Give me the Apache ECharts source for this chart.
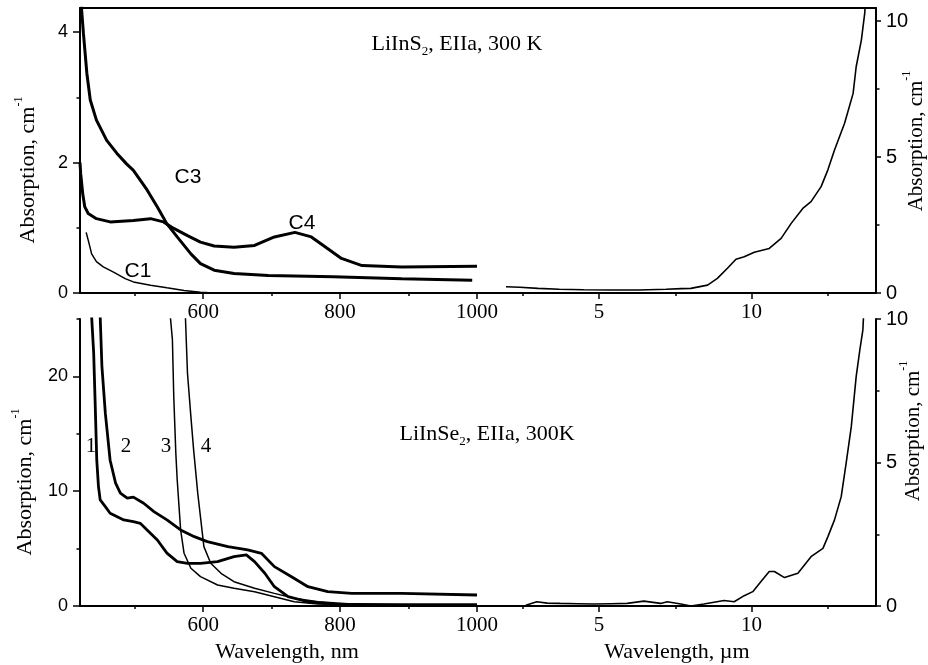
<!DOCTYPE html>
<html><head><meta charset="utf-8">
<script src="https://cdn.jsdelivr.net/npm/echarts@6/dist/echarts.min.js"></script>
<style>html,body{margin:0;padding:0;background:#fff}#c{width:928px;height:665px}</style>
</head><body><div id="c"></div>
<script>
// ---------- DATA ----------
// Top panel, LiInS2, visible range (nm) -> left axis
const c1Nm  = [429, 432, 437, 444, 454, 469, 486, 498, 523, 547, 572, 596, 615, 640, 660];
const c1Abs = [0.93, 0.81, 0.60, 0.48, 0.40, 0.32, 0.22, 0.17, 0.12, 0.08, 0.04, 0.01, 0.0, 0.0, 0.0];
const c3Nm  = [422, 425, 430, 435, 444, 459, 474, 488, 498, 508, 518, 533, 547, 562, 582, 596, 616, 645, 695, 790, 890, 993];
const c3Abs = [4.39, 3.98, 3.37, 2.96, 2.65, 2.34, 2.14, 1.98, 1.88, 1.73, 1.58, 1.32, 1.06, 0.86, 0.60, 0.45, 0.35, 0.30, 0.27, 0.25, 0.22, 0.195];
const c4Nm  = [420, 421, 424, 427, 432, 444, 464, 498, 523, 542, 557, 577, 596, 616, 645, 675, 704, 734, 758, 778, 802, 832, 890, 1000];
const c4Abs = [2.0, 1.83, 1.52, 1.32, 1.22, 1.14, 1.09, 1.11, 1.14, 1.09, 0.99, 0.88, 0.78, 0.72, 0.70, 0.73, 0.86, 0.93, 0.86, 0.71, 0.53, 0.42, 0.40, 0.41];
// Top panel, IR range (um) -> right axis
const sIrUm  = [1.95, 2.4, 3.0, 3.7, 4.5, 5.4, 6.3, 7.2, 7.7, 8.01, 8.56, 8.88, 9.21, 9.49, 9.76, 10.09, 10.58, 10.97, 11.30, 11.68, 11.95, 12.28, 12.50, 12.72, 13.05, 13.33, 13.43, 13.60, 13.71, 13.73];
const sIrAbs = [0.23, 0.21, 0.17, 0.14, 0.12, 0.11, 0.11, 0.14, 0.16, 0.17, 0.29, 0.54, 0.91, 1.24, 1.33, 1.50, 1.64, 2.01, 2.56, 3.11, 3.36, 3.91, 4.52, 5.26, 6.24, 7.34, 8.32, 9.30, 10.28, 10.65];
// Bottom panel, LiInSe2, visible range (nm)
const s1Nm  = [437, 440, 442, 444.5, 447, 449.5, 457, 464, 484, 498, 508, 518, 533, 547, 562, 577, 596, 621, 645, 663, 675, 690, 704, 724, 753, 792, 890, 1000];
const s1Abs = [25.2, 22.0, 18.0, 12.7, 10.4, 9.24, 8.66, 8.08, 7.5, 7.35, 7.2, 6.63, 5.75, 4.6, 3.86, 3.72, 3.72, 3.86, 4.30, 4.45, 3.86, 2.85, 1.68, 0.81, 0.37, 0.17, 0.09, 0.09];
const s2Nm  = [449.5, 452, 457, 464, 472, 479, 489, 498, 513, 528, 547, 567, 587, 606, 636, 665, 685, 704, 729, 753, 782, 817, 890, 1000];
const s2Abs = [25.2, 20.9, 16.8, 12.7, 10.7, 9.83, 9.39, 9.48, 8.95, 8.22, 7.5, 6.63, 6.04, 5.61, 5.17, 4.88, 4.59, 3.43, 2.55, 1.68, 1.25, 1.1, 1.1, 0.96];
const s3Nm  = [552, 555, 557, 560, 562, 567, 572, 582, 596, 621, 645, 675, 704, 733, 768, 850, 1000];
const s3Abs = [25.2, 23.2, 18.2, 13.3, 11.0, 6.63, 4.6, 3.29, 2.56, 1.83, 1.54, 1.25, 0.81, 0.37, 0.17, 0.10, 0.08];
const s4Nm  = [574, 577, 582, 586, 592, 596.5, 601, 611, 626, 645, 675, 704, 733, 768, 817, 1000];
const s4Abs = [25.2, 20.3, 16.5, 13.6, 9.83, 7.5, 5.17, 3.72, 2.85, 2.12, 1.54, 1.1, 0.67, 0.37, 0.17, 0.15];
// Bottom panel, IR range (um)
const seIrUm  = [2.6, 2.96, 3.3, 3.73, 4.3, 4.83, 5.4, 5.92, 6.47, 7.02, 7.24, 7.68, 8.01, 8.44, 9.1, 9.43, 9.76, 10.04, 10.31, 10.58, 10.75, 11.08, 11.52, 11.95, 12.34, 12.50, 12.72, 12.94, 13.10, 13.27, 13.43, 13.55, 13.65, 13.67];
const seIrAbs = [0.03, 0.15, 0.10, 0.09, 0.08, 0.07, 0.08, 0.09, 0.17, 0.09, 0.15, 0.07, 0.0, 0.07, 0.19, 0.15, 0.36, 0.50, 0.85, 1.20, 1.20, 0.99, 1.14, 1.72, 2.01, 2.41, 3.00, 3.81, 4.97, 6.25, 7.99, 8.92, 9.62, 10.08];

// Axis ticks / labels
const nmRange = [420, 1000];
const nmMajor = [600, 800, 1000];
const nmMinor = [500, 700, 900];
const umRange = [1, 14.08];
const umMajor = [5, 10];
const umTicks = [1, 5, 10];
const umMinor = [2.5, 7.5, 12.5];
const topLeftY = [0, 4.37], topLeftMajor = [0, 2, 4], topLeftMinor = [1, 3];
const topRightY = [0, 10.48], topRightMajor = [0, 5, 10], topRightMinor = [2.5, 7.5];
const botLeftY = [0, 25], botLeftMajor = [0, 10, 20], botLeftMinor = [5, 15, 25];
const botRightY = [0, 10], botRightMajor = [0, 5, 10], botRightMinor = [2.5, 7.5];

// ---------- CHART ----------
const SERIF = '"Liberation Serif","Times New Roman",serif';
const SANS = '"Liberation Sans",Arial,sans-serif';
const zip = (xs, ys) => xs.map((x, i) => [x, ys[i]]);
const AX = {color: '#000', width: 2};
const plain = v => String(v);

function xMain(g, r, ticks, labels) {
  return {type: 'value', gridIndex: g, position: 'bottom', min: r[0], max: r[1],
    axisLine: {show: true, onZero: false, lineStyle: AX},
    axisTick: {show: true, length: 6, customValues: ticks, lineStyle: {color: '#000', width: 1.5}},
    axisLabel: {show: true, customValues: labels, formatter: plain, margin: 9, fontFamily: SERIF, fontSize: 21, color: '#000', showMaxLabel: true, showMinLabel: true},
    splitLine: {show: false}};
}
function xMinor(g, r, ticks) {
  return {type: 'value', gridIndex: g, position: 'bottom', min: r[0], max: r[1],
    axisLine: {show: false}, axisTick: {show: true, length: 3, customValues: ticks, lineStyle: {color: '#000', width: 1.5}},
    axisLabel: {show: false}, splitLine: {show: false}};
}
function xTop(g, r) {
  return {type: 'value', gridIndex: g, position: 'top', min: r[0], max: r[1],
    axisLine: {show: true, onZero: false, lineStyle: AX}, axisTick: {show: false},
    axisLabel: {show: false}, splitLine: {show: false}};
}
function yMain(g, pos, r, ticks, fs, margin) {
  return {type: 'value', gridIndex: g, position: pos, min: r[0], max: r[1],
    axisLine: {show: true, onZero: false, lineStyle: AX},
    axisTick: {show: true, length: pos === 'left' ? 7 : 5, customValues: ticks, lineStyle: {color: '#000', width: 1.5}},
    axisLabel: {show: true, customValues: ticks, formatter: plain, margin: margin, fontFamily: SANS, fontSize: fs, color: '#000', showMaxLabel: true, showMinLabel: true},
    splitLine: {show: false}};
}
function yMinor(g, pos, r, ticks) {
  return {type: 'value', gridIndex: g, position: pos, min: r[0], max: r[1],
    axisLine: {show: false}, axisTick: {show: true, length: 3.5, customValues: ticks, lineStyle: {color: '#000', width: 1.5}},
    axisLabel: {show: false}, splitLine: {show: false}};
}
function line(data, xi, yi, w) {
  return {type: 'line', xAxisIndex: xi, yAxisIndex: yi, data: data, showSymbol: false, symbol: 'none',
    lineStyle: {color: '#000', width: w}, itemStyle: {color: '#000'}, clip: true, animation: false, silent: true};
}
function txt(x, y, text, font, size, rich, rot) {
  const st = {text: text, fontFamily: font, fontSize: size, fill: '#000', align: 'center', verticalAlign: 'middle'};
  if (rich) st.rich = rich;
  const o = {type: 'text', x: x, y: y, style: st, silent: true};
  if (rot) o.rotation = rot;
  return o;
}

const subRich = {
  t: {fontFamily: SERIF, fontSize: 22, lineHeight: 28, fill: '#000', verticalAlign: 'middle'},
  s: {fontFamily: SERIF, fontSize: 13, lineHeight: 28, fill: '#000', verticalAlign: 'bottom'}
};
function nameRich(size) {
  return {
    t: {fontFamily: SERIF, fontSize: size, lineHeight: 30, fill: '#000', verticalAlign: 'middle'},
    p: {fontFamily: SERIF, fontSize: 12, lineHeight: 30, fill: '#000', verticalAlign: 'top'}
  };
}

const option = {
  backgroundColor: '#fff',
  animation: false,
  grid: [
    {left: 80, top: 8, width: 397, height: 285},
    {left: 477, top: 8, width: 399, height: 285},
    {left: 80, top: 319, width: 397, height: 287},
    {left: 477, top: 319, width: 399, height: 287}
  ],
  xAxis: [
    xMain(0, nmRange, nmMajor, nmMajor), xMinor(0, nmRange, nmMinor), xTop(0, nmRange),
    xMain(1, umRange, umTicks, umMajor), xMinor(1, umRange, umMinor), xTop(1, umRange),
    xMain(2, nmRange, nmMajor, nmMajor), xMinor(2, nmRange, nmMinor),
    xMain(3, umRange, umTicks, umMajor), xMinor(3, umRange, umMinor)
  ],
  yAxis: [
    yMain(0, 'left', topLeftY, topLeftMajor, 18, 12), yMinor(0, 'left', topLeftY, topLeftMinor),
    yMain(1, 'right', topRightY, topRightMajor, 20, 10), yMinor(1, 'right', topRightY, topRightMinor),
    yMain(2, 'left', botLeftY, botLeftMajor, 18, 12), yMinor(2, 'left', botLeftY, botLeftMinor),
    yMain(3, 'right', botRightY, botRightMajor, 20, 10), yMinor(3, 'right', botRightY, botRightMinor)
  ],
  series: [
    line(zip(c1Nm, c1Abs), 0, 0, 1.5),
    line(zip(c3Nm, c3Abs), 0, 0, 3),
    line(zip(c4Nm, c4Abs), 0, 0, 3),
    line(zip(sIrUm, sIrAbs), 3, 2, 1.6),
    line(zip(s1Nm, s1Abs), 6, 4, 2.8),
    line(zip(s2Nm, s2Abs), 6, 4, 2.8),
    line(zip(s3Nm, s3Abs), 6, 4, 1.5),
    line(zip(s4Nm, s4Abs), 6, 4, 1.5),
    line(zip(seIrUm, seIrAbs), 8, 6, 1.6)
  ],
  graphic: [
    txt(457, 44, '{t|LiInS}{s|2}{t|, EIIa, 300 K}', SERIF, 22, subRich),
    txt(487, 434, '{t|LiInSe}{s|2}{t|, EIIa, 300K}', SERIF, 22, subRich),
    txt(138, 271, 'C1', SANS, 21),
    txt(188, 177, 'C3', SANS, 21),
    txt(302, 223, 'C4', SANS, 21),
    txt(91, 446, '1', SERIF, 21),
    txt(126, 446, '2', SERIF, 21),
    txt(166, 446, '3', SERIF, 21),
    txt(206, 446, '4', SERIF, 21),
    txt(28, 170, '{t|Absorption, cm}{p|-1}', SERIF, 22, nameRich(22), Math.PI / 2),
    txt(25, 482, '{t|Absorption, cm}{p|-1}', SERIF, 22, nameRich(22), Math.PI / 2),
    txt(916, 141, '{t|Absorption, cm}{p|-1}', SERIF, 21, nameRich(21), Math.PI / 2),
    txt(913, 431, '{t|Absorption, cm}{p|-1}', SERIF, 21, nameRich(21), Math.PI / 2),
    txt(287, 652, 'Wavelength, nm', SERIF, 22),
    txt(677, 652, 'Wavelength, µm', SERIF, 22)
  ]
};
const chart = echarts.init(document.getElementById('c'), null, {renderer: 'canvas'});
chart.setOption(option);
</script>
</body></html>
